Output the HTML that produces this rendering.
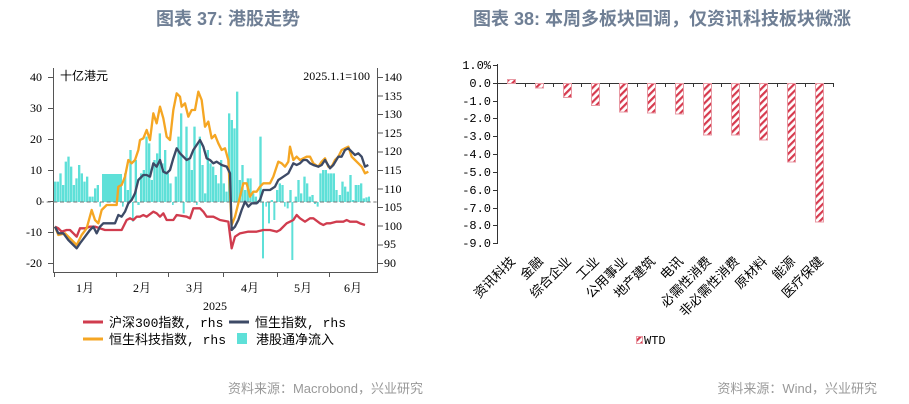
<!DOCTYPE html>
<html><head><meta charset="utf-8"><style>
html,body{margin:0;padding:0;background:#fff;width:909px;height:404px;overflow:hidden}
svg{display:block}
.t{font-family:"Liberation Sans","Noto Sans CJK SC",sans-serif;}
</style></head><body>
<svg width="909" height="404" viewBox="0 0 909 404" xmlns="http://www.w3.org/2000/svg" class="t">
<defs>
<pattern id="hatch" patternUnits="userSpaceOnUse" width="5" height="5" patternTransform="rotate(45)">
<rect width="5" height="5" fill="#fff"/><rect width="2.2" height="5" fill="#d63a4e"/>
</pattern>
</defs>
<!-- titles -->
<text x="228" y="25" text-anchor="middle" font-size="18" font-weight="bold" fill="#6f7f95" font-family="Liberation Sans,Noto Sans CJK SC,sans-serif">图表 37: 港股走势</text>
<text x="662" y="25" text-anchor="middle" font-size="18" font-weight="bold" fill="#6f7f95" font-family="Liberation Sans,Noto Sans CJK SC,sans-serif">图表 38: 本周多板块回调，仅资讯科技板块微涨</text>

<!-- LEFT CHART -->
<g font-size="12" fill="#000" font-family="Liberation Serif,Noto Serif CJK SC,serif">
<g text-anchor="end">
<text x="42" y="81">40</text><text x="42" y="112">30</text><text x="42" y="143">20</text><text x="42" y="174">10</text><text x="42" y="205">0</text><text x="42" y="236">-10</text><text x="42" y="267">-20</text>
</g>
<g>
<text x="384" y="81">140</text><text x="384" y="100">135</text><text x="384" y="118">130</text><text x="384" y="137">125</text><text x="384" y="155">120</text><text x="384" y="174">115</text><text x="384" y="193">110</text><text x="384" y="211">105</text><text x="384" y="230">100</text><text x="384" y="248">95</text><text x="384" y="267">90</text>
</g>
<g text-anchor="middle">
<text x="85" y="292">1月</text><text x="142" y="292">2月</text><text x="195" y="292">3月</text><text x="250" y="292">4月</text><text x="303" y="292">5月</text><text x="353" y="292">6月</text>
<text x="215" y="310">2025</text>
</g>
<text x="60" y="80" font-family="Liberation Sans,Noto Sans CJK SC,sans-serif" font-size="12">十亿港元</text>
<text x="370" y="80" text-anchor="end">2025.1.1=100</text>
</g>
<g stroke="#555" stroke-width="1" fill="none">
<line x1="53.5" y1="68" x2="53.5" y2="272"/>
<line x1="377.5" y1="68" x2="377.5" y2="272"/>
<line x1="53" y1="272.5" x2="378" y2="272.5"/>
<path d="M48 77.5h5M48 108.5h5M48 139.5h5M48 170.5h5M48 201.5h5M48 232.5h5M48 263.5h5"/>
<path d="M378 77.5h5M378 96h5M378 114.5h5M378 133h5M378 152h5M378 170.5h5M378 189h5M378 207.5h5M378 226h5M378 245h5M378 263.5h5"/>
<path d="M54.5 272v5M116.5 272v5M168.5 272v5M223.5 272v5M277.5 272v5M329.5 272v5"/>
</g>
<g transform="translate(40,60) scale(0.33333)">
<path fill="#5ee0d8" d="M42 426V365h7V426zM50 426V365h7V426zM58 426V340h7V426zM66 426V375h7V426zM74 426V305h7V426zM82 426V290h7V426zM90 426V320h7V426zM98 426V375h7V426zM106 426V355h7V426zM114 426V315h7V426zM122 426V340h7V426zM130 426V365h7V426zM138 426V350h7V426zM146 426V410h7V426zM154 426V410h7V426zM162 426V385h7V426zM170 426V375h7V426zM178 426V440h5V426zM186 426V342h60V426zM246 426V440h5V426zM252 426V340h7V426zM260 426V390h7V426zM268 426V270h7V426zM276 426V485h5V426zM284 426V300h7V426zM292 426V435h7V426zM300 426V340h7V426zM308 426V330h7V426zM316 426V230h7V426zM324 426V250h7V426zM332 426V360h7V426zM340 426V300h7V426zM348 426V280h7V426zM356 426V220h7V426zM364 426V310h7V426zM372 426V270h7V426zM380 426V340h7V426zM388 426V370h7V426zM396 426V435h5V426zM404 426V350h7V426zM412 426V230h7V426zM420 426V160h7V426zM428 426V460h6V426zM436 426V200h7V426zM444 426V300h7V426zM452 426V330h7V426zM460 426V200h7V426zM468 426V435h5V426zM476 426V230h7V426zM484 426V315h7V426zM492 426V400h7V426zM500 426V270h7V426zM508 426V310h7V426zM516 426V320h7V426zM524 426V345h7V426zM532 426V370h7V426zM540 426V300h7V426zM548 426V370h7V426zM556 426V395h7V426zM564 426V160h7V426zM572 426V180h7V426zM580 426V205h7V426zM588 426V95h7V426zM596 426V360h7V426zM604 426V315h7V426zM612 426V390h7V426zM620 426V355h7V426zM628 426V355h7V426zM636 426V400h7V426zM644 426V410h7V426zM652 426V430h5V426zM658 426V230h7V426zM666 426V595h6V426zM676 426V440h5V426zM684 426V490h6V426zM692 426V420h7V426zM700 426V480h6V426zM708 426V390h7V426zM716 426V370h7V426zM724 426V375h7V426zM732 426V440h5V426zM740 426V445h6V426zM748 426V390h7V426zM754 426V600h6V426zM764 426V410h7V426zM772 426V360h7V426zM780 426V400h7V426zM790 426V350h7V426zM798 426V370h7V426zM806 426V410h7V426zM814 426V405h7V426zM822 426V432h6V426zM830 426V440h6V426zM838 426V340h7V426zM846 426V330h7V426zM854 426V330h7V426zM862 426V340h7V426zM870 426V340h7V426zM878 426V340h7V426zM886 426V390h7V426zM896 426V405h7V426zM904 426V365h7V426zM912 426V380h7V426zM920 426V395h7V426zM928 426V345h7V426zM936 426V420h7V426zM944 426V375h7V426zM952 426V375h7V426zM960 426V370h7V426zM968 426V415h7V426zM976 426V412h7V426zM984 426V410h6V426z"/>
<line x1="0" y1="426" x2="1010" y2="426" stroke="#777" stroke-width="3" stroke-dasharray="12,8"/>
<polyline fill="none" stroke="#d03c4e" stroke-width="7" stroke-linejoin="round" points="45,500 55,505 65,515 80,510 90,510 100,520 110,530 120,505 135,505 150,500 165,500 180,505 195,510 245,510 260,480 270,475 280,480 290,470 300,470 310,465 320,470 340,455 350,460 360,470 370,460 380,480 400,480 410,465 440,470 450,475 460,445 480,445 490,455 500,470 520,470 540,480 565,485 575,565 585,530 600,520 625,515 650,515 670,510 690,510 710,515 720,510 740,490 760,480 770,465 780,475 795,485 810,475 820,475 840,490 850,495 860,490 870,490 890,485 910,485 920,480 930,485 950,485 960,490 975,495"/>
<polyline fill="none" stroke="#f5a623" stroke-width="7" stroke-linejoin="round" points="45,500 55,525 75,520 90,535 110,555 125,525 140,505 155,450 165,480 175,490 185,450 200,435 215,435 230,435 235,380 245,375 255,350 265,300 275,310 285,300 295,270 300,240 310,235 320,210 330,240 340,160 350,190 360,140 370,175 380,230 390,240 400,150 410,100 420,110 425,140 435,130 445,170 455,150 465,150 475,95 485,120 495,200 505,185 515,235 525,225 535,250 545,270 555,265 565,300 575,495 585,470 595,430 610,370 620,370 630,410 640,395 650,395 660,380 670,370 690,370 700,350 715,305 725,310 735,320 745,305 750,260 760,300 770,290 780,300 800,290 810,290 820,310 835,320 845,305 855,295 865,320 875,320 885,300 895,290 905,270 915,265 925,260 935,290 945,300 955,310 965,320 975,340 985,335"/>
<polyline fill="none" stroke="#3d4a66" stroke-width="7" stroke-linejoin="round" points="45,500 55,520 70,520 85,540 100,555 110,565 120,550 135,530 150,510 160,500 170,520 180,500 190,490 225,490 235,465 245,470 255,455 265,430 275,420 285,400 295,360 310,345 320,345 330,350 340,310 350,320 360,300 370,335 380,340 390,330 400,295 410,265 420,280 430,290 440,300 450,295 460,270 470,255 480,240 490,260 500,295 510,300 520,310 530,305 545,315 560,320 570,340 575,510 585,500 595,480 605,450 615,425 625,440 635,430 650,430 660,420 670,390 690,390 705,380 715,360 730,350 745,340 760,310 770,315 780,310 790,300 800,300 810,310 820,315 835,320 845,315 855,300 870,325 880,315 895,290 905,290 915,270 925,265 935,275 945,285 955,280 965,290 975,320 985,315"/>
</g>
<!-- left legend -->
<g font-size="13" font-family="Liberation Mono,Noto Sans CJK SC,monospace" fill="#000">
<line x1="83" y1="322" x2="103" y2="322" stroke="#d03c4e" stroke-width="3"/>
<text x="109" y="327">沪深300指数, rhs</text>
<line x1="229" y1="322" x2="249" y2="322" stroke="#3d4a66" stroke-width="3"/>
<text x="255" y="327">恒生指数, rhs</text>
<line x1="83" y1="339" x2="103" y2="339" stroke="#f5a623" stroke-width="3"/>
<text x="109" y="344">恒生科技指数, rhs</text>
<rect x="237" y="333" width="10" height="11" fill="#5ee0d8"/>
<text x="256" y="344">港股通净流入</text>
</g>
<text x="423" y="393" text-anchor="end" font-size="13" fill="#999">资料来源：Macrobond，兴业研究</text>

<!-- RIGHT CHART -->
<g font-size="12" font-family="Liberation Mono,monospace" fill="#000" text-anchor="end">
<text x="491" y="69">1.0%</text>
<text x="491" y="87">0.0</text><text x="491" y="105">-1.0</text><text x="491" y="122">-2.0</text><text x="491" y="140">-3.0</text><text x="491" y="158">-4.0</text><text x="491" y="176">-5.0</text><text x="491" y="194">-6.0</text><text x="491" y="212">-7.0</text><text x="491" y="229">-8.0</text><text x="491" y="247">-9.0</text>
</g>
<g stroke="#333" stroke-width="1" fill="none">
<line x1="497.5" y1="64" x2="497.5" y2="244"/>
<path d="M493 65.5h4M493 83.5h4M493 101.5h4M493 118.5h4M493 136.5h4M493 154.5h4M493 172.5h4M493 190.5h4M493 208.5h4M493 225.5h4M493 243.5h4"/>
<line x1="497" y1="83.5" x2="834" y2="83.5"/>
<path d="M525.5 83v4M553.5 83v4M581.5 83v4M609.5 83v4M637.5 83v4M665.5 83v4M693.5 83v4M721.5 83v4M749.5 83v4M777.5 83v4M805.5 83v4M833.5 83v4"/>
</g>
<g fill="url(#hatch)" stroke="#e89aa4" stroke-width="1">
<rect x="507.5" y="79.5" width="8" height="4"/>
<rect x="535.5" y="83.5" width="8" height="4.5"/>
<rect x="563.5" y="83.5" width="8" height="14"/>
<rect x="591.5" y="83.5" width="8" height="22"/>
<rect x="619.5" y="83.5" width="8" height="28.5"/>
<rect x="647.5" y="83.5" width="8" height="29.5"/>
<rect x="675.5" y="83.5" width="8" height="30.5"/>
<rect x="703.5" y="83.5" width="8" height="51.5"/>
<rect x="731.5" y="83.5" width="8" height="51.5"/>
<rect x="759.5" y="83.5" width="8" height="56.5"/>
<rect x="787.5" y="83.5" width="8" height="78.5"/>
<rect x="815.5" y="83.5" width="8" height="138.5"/>
</g>
<g font-size="13" font-family="Liberation Sans,Noto Sans CJK SC,sans-serif" fill="#000" text-anchor="end">
<text transform="translate(516,262) rotate(-45)">资讯科技</text>
<text transform="translate(544,262) rotate(-45)">金融</text>
<text transform="translate(572,262) rotate(-45)">综合企业</text>
<text transform="translate(600,262) rotate(-45)">工业</text>
<text transform="translate(628,262) rotate(-45)">公用事业</text>
<text transform="translate(656,262) rotate(-45)">地产建筑</text>
<text transform="translate(684,262) rotate(-45)">电讯</text>
<text transform="translate(712,262) rotate(-45)">必需性消费</text>
<text transform="translate(740,262) rotate(-45)">非必需性消费</text>
<text transform="translate(768,262) rotate(-45)">原材料</text>
<text transform="translate(796,262) rotate(-45)">能源</text>
<text transform="translate(824,262) rotate(-45)">医疗保健</text>
</g>
<rect x="636.5" y="336.5" width="6" height="7" fill="url(#hatch)" stroke="#e89aa4"/>
<text x="644" y="344" font-size="12" font-family="Liberation Mono,monospace">WTD</text>
<text x="877" y="393" text-anchor="end" font-size="13" fill="#999">资料来源：Wind，兴业研究</text>
</svg>
</body></html>
